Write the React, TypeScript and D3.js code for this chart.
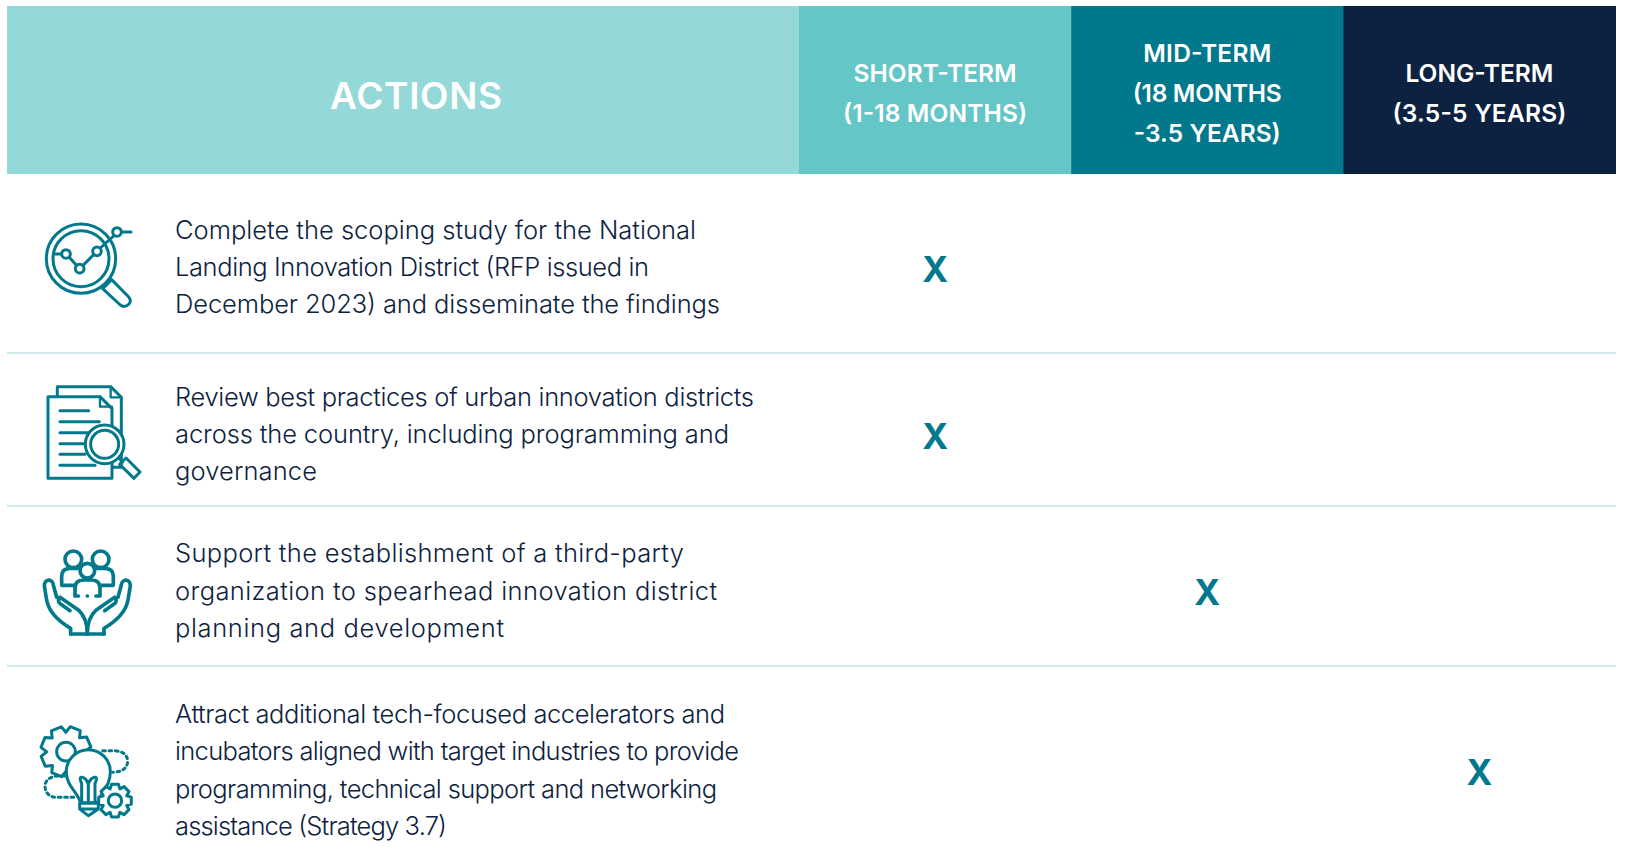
import React from 'react';
import * as d3 from 'd3';

const terms = ['short', 'mid', 'long'];
const termLabels = [
  ['SHORT-TERM', '(1-18 MONTHS)'],
  ['MID-TERM', '(18 MONTHS', '-3.5 YEARS)'],
  ['LONG-TERM', '(3.5-5 YEARS)'],
];
const actions = [
  ['Complete the scoping study for the National', 'Landing Innovation District (RFP issued in', 'December 2023) and disseminate the findings'],
  ['Review best practices of urban innovation districts', 'across the country, including programming and', 'governance'],
  ['Support the establishment of a third-party', 'organization to spearhead innovation district', 'planning and development'],
  ['Attract additional tech-focused accelerators and', 'incubators aligned with target industries to provide', 'programming, technical support and networking', 'assistance (Strategy 3.7)'],
];
const actionTerms = ['short', 'short', 'mid', 'long'];

const width = 1627;
const height = 858;
const TEAL = '#01788b';
const NAVY = '#0d2240';
const FONT = 'Inter, "Noto Sans", sans-serif';
const termFill = ['#65c6c7', TEAL, NAVY];

// Poppins is not installed, so each line is fitted to the width it has in the reference
const lineWidths = [
  [521, 474, 545],
  [579, 554, 142],
  [509, 542, 329],
  [550, 564, 542, 272],
];
const termLineWidths = [
  [163, 184],
  [128, 149, 147],
  [148, 174],
];

const xTerm = d3.scaleBand<string>().domain(terms).range([799, 1615.5]);
const rowIds = actions.map((_, i) => i);
const yRow = d3.scaleOrdinal<number, number>().domain(rowIds).range([267, 434, 590.5, 770]);
const dividers = [353, 506, 666];

// gear outline around 0,0
function gearPath(outer: number, inner: number, teeth: number) {
  const step = (Math.PI * 2) / teeth;
  const pts: [number, number][] = [];
  d3.range(teeth).forEach(i => {
    const a = i * step;
    [[-0.5, inner], [-0.27, outer], [0.27, outer], [0.5, inner]].forEach(([k, r]) => {
      pts.push([Math.cos(a + (k as number) * step) * (r as number), Math.sin(a + (k as number) * step) * (r as number)]);
    });
  });
  return d3.line()(pts) + 'Z';
}

// icons traced at 3x, placed with translate + scale(1/3)
const iconProps = { fill: 'none', stroke: TEAL, strokeWidth: 9, strokeLinejoin: 'round' as const, strokeLinecap: 'round' as const };

function IconSearchChart() {
  const nodes = [[195, 252], [236, 296], [288, 244], [348, 186]];
  return (
    <g transform="translate(1,170) scale(0.3333)" {...iconProps}>
      <circle cx={240} cy={266} r={104} />
      <circle cx={240} cy={266} r={84} />
      <path d="M160,252H182M205,262L226,286M246,286L278,254M298,234L338,198M362,186H390" />
      {nodes.map(([cx, cy]) => <circle key={cx} cx={cx} cy={cy} r={13} />)}
      <path d="M305,356L332,329L384,382Q392,393 384,402Q371,415 358,405Z" />
    </g>
  );
}

function IconDocs() {
  const rows: [number, number][] = [[722, 266], [755, 298], [788, 270], [821, 255], [853, 255], [886, 285]];
  return (
    <g transform="translate(0,170) scale(0.3333)" {...iconProps}>
      <path d="M172,678V650H332L364,682V892H338" />
      <path d="M332,650V682H364" strokeWidth={7} />
      <path d="M144,680H300L336,716V925H144Z" />
      <path d="M300,680V710H336" strokeWidth={7} />
      {rows.map(([y, x2]) => <line key={y} x1={180} x2={x2} y1={y} y2={y} />)}
      <circle cx={314} cy={823} r={58} fill="#fff" />
      <circle cx={314} cy={823} r={42} />
      <path d="M356,864L368,876M378,864L420,906L402,925L359,883Z" />
    </g>
  );
}

function IconPeople() {
  const hand = 'M212,372V355C170,330 145,300 140,270L133,228C133,205 158,205 160,225L170,262M180,262L235,300C252,315 262,335 262,372M180,262Q170,275 182,282L210,302';
  return (
    <g transform="translate(0,510) scale(0.3333)" {...iconProps} strokeWidth={11}>
      <circle cx={220} cy={148} r={25} />
      <circle cx={302} cy={148} r={25} />
      <circle cx={262} cy={182} r={22} />
      <path d="M222,226H185V200Q185,175 210,175H232M302,226H340V200Q340,175 315,175H292" />
      <path d="M235,258H225V235Q225,210 250,210H275Q300,210 300,235V258H288M262,258H262.1" />
      <path d={hand} />
      <path d={hand} transform="translate(524,0) scale(-1,1)" />
      <path d="M212,372H312" />
    </g>
  );
}

function IconIdea() {
  return (
    <g transform="translate(1,510) scale(0.3333)" {...iconProps} strokeWidth={9}>
      <path d={gearPath(76, 58, 8)} transform="translate(195,725) rotate(22)" />
      <circle cx={195} cy={725} r={28} />
      <path d="M305,722H340Q380,725 380,755Q378,785 335,787M190,798H165Q132,805 132,830Q135,860 165,862H225" strokeDasharray="8 11" />
      <path d="M238,878C230,845 196,830 196,785A66,66 0 1 1 328,785C328,830 300,845 290,878Z" fill="#fff" />
      <path d="M236,880H292V897Q280,905 262,917Q245,905 236,897ZM236,897H290" fill="#fff" />
      <path d="M242,878V820Q232,800 244,802Q258,806 262,825V878M282,878V820Q292,800 280,802Q266,806 262,825" />
      <path d={gearPath(50, 38, 8)} transform="translate(342,872)" fill="#fff" />
      <circle cx={342} cy={872} r={20} />
    </g>
  );
}

const icons = [IconSearchChart, IconDocs, IconPeople, IconIdea];

export default function App() {
  const bandw = xTerm.bandwidth();
  return (
    <svg width={width} height={height} viewBox={`0 0 ${width} ${height}`}
      style={{ position: 'absolute', left: 0, top: 0, display: 'block', background: '#fff' }} fontFamily={FONT}>
      <rect x={7} y={6} width={792} height={168} fill="#94d9d8" />
      <text x={416} y={109} textAnchor="middle" fill="#fff" fontSize={37} fontWeight={600} textLength={172} lengthAdjust="spacing">ACTIONS</text>

      {terms.map((t, i) => {
        const cx = (xTerm(t) as number) + bandw / 2;
        const lines = termLabels[i];
        return (
          <g key={t}>
            <rect x={xTerm(t)} y={6} width={bandw + 0.5} height={168} fill={termFill[i]} />
            {lines.map((l, j) => (
              <text key={l} x={cx} y={93 + (j - (lines.length - 1) / 2) * 40 + 8.5} textAnchor="middle" fill="#fff" fontSize={24.5} fontWeight={600}
                textLength={termLineWidths[i][j]} lengthAdjust="spacing">{l}</text>
            ))}
          </g>
        );
      })}

      {dividers.map(y => <line key={y} x1={7} x2={1616} y1={y} y2={y} stroke="#c5e3e6" strokeWidth={1.5} />)}

      {actions.map((lines, r) => {
        const Icon = icons[r];
        return (
          <g key={r}>
            <Icon />
            {lines.map((l, j) => (
              <text key={l} x={175} y={yRow(r) + (j - (lines.length - 1) / 2) * 37.3 + 9} fill={NAVY} fontSize={25.5} fontWeight={300}
                textLength={lineWidths[r][j]} lengthAdjust="spacing">{l}</text>
            ))}
            <text x={(xTerm(actionTerms[r]) as number) + bandw / 2} y={yRow(r) + 2 + 12.5} textAnchor="middle" fill={TEAL} fontSize={35} fontWeight={700}>X</text>
          </g>
        );
      })}
    </svg>
  );
}
